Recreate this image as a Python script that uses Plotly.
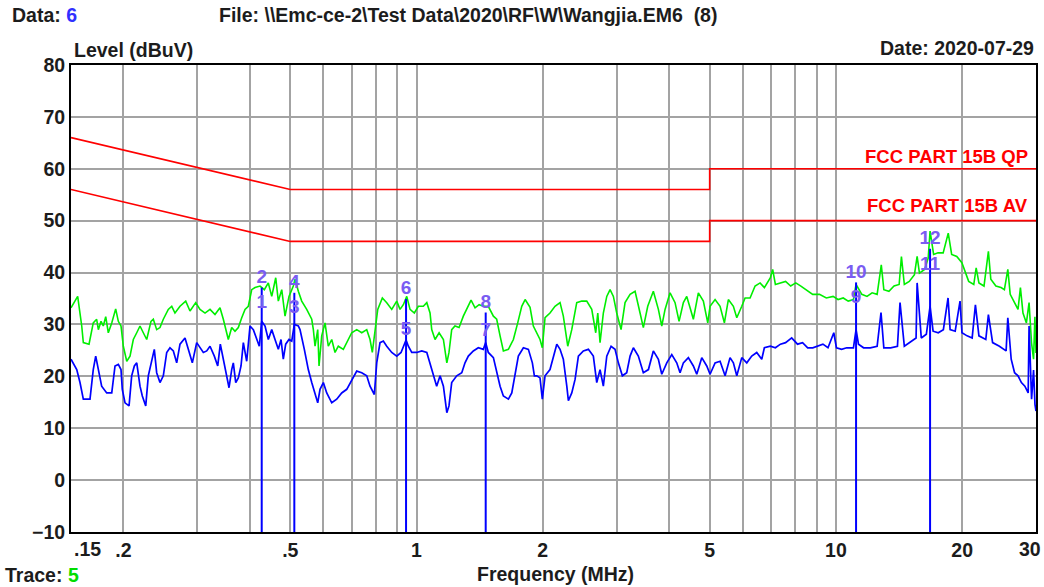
import plotly.graph_objects as go

# ---- measured spectrum: peak detector (green) ----
peak_freq = [
    0.150, 0.1556, 0.1591, 0.1605, 0.1656, 0.1695, 0.1727, 0.1743, 0.1769, 0.1791,
    0.1815, 0.1841, 0.1876, 0.1917, 0.1945, 0.1974, 0.1999, 0.2037, 0.2074, 0.2112,
    0.2152, 0.2191, 0.2231, 0.2273, 0.2327, 0.2357, 0.2401, 0.2445, 0.2490, 0.2559,
    0.2608, 0.2655, 0.2729, 0.2816, 0.2883, 0.2975, 0.3046, 0.3131, 0.3218, 0.3307,
    0.3399, 0.3462, 0.3558, 0.3625, 0.3691, 0.3759, 0.3830, 0.3900, 0.3971, 0.4046,
    0.4120, 0.4235, 0.4336, 0.4432, 0.4516, 0.4616, 0.4682, 0.4771, 0.4858, 0.4965,
    0.5084, 0.5132, 0.5226, 0.5324, 0.5472, 0.5625, 0.5675, 0.5728, 0.5813, 0.5855,
    0.5942, 0.6051, 0.6161, 0.6278, 0.6392, 0.6509, 0.6691, 0.6877, 0.7006, 0.7202,
    0.7402, 0.7608, 0.7747, 0.7845, 0.7963, 0.8082, 0.8289, 0.8491, 0.8728, 0.8970,
    0.9134, 0.9302, 0.9477, 0.9650, 0.9881, 1.010, 1.038, 1.058, 1.077, 1.087,
    1.107, 1.132, 1.159, 1.181, 1.195, 1.213, 1.235, 1.263, 1.293, 1.318,
    1.349, 1.379, 1.410, 1.443, 1.483, 1.525, 1.553, 1.582, 1.611, 1.656,
    1.702, 1.743, 1.782, 1.815, 1.865, 1.899, 1.935, 1.970, 1.995, 2.025,
    2.081, 2.139, 2.199, 2.239, 2.294, 2.345, 2.410, 2.477, 2.546, 2.617,
    2.675, 2.705, 2.739, 2.789, 2.842, 2.894, 2.947, 3.002, 3.074, 3.142,
    3.230, 3.320, 3.412, 3.474, 3.559, 3.670, 3.773, 3.844, 3.914, 4.023,
    4.135, 4.227, 4.328, 4.409, 4.490, 4.572, 4.699, 4.830, 4.948, 5.011,
    5.151, 5.294, 5.421, 5.541, 5.695, 5.803, 5.964, 6.073, 6.242, 6.416,
    6.595, 6.752, 6.979, 7.067, 7.173, 7.376, 7.586, 7.801, 8.023, 8.251,
    8.481, 8.803, 9.138, 9.486, 9.846, 10.12, 10.41, 10.70, 11.01, 11.17,
    11.53, 11.86, 12.20, 12.54, 12.83, 13.01, 13.38, 13.76, 14.15, 14.33,
    14.56, 14.96, 15.39, 15.62, 15.82, 16.27, 16.60, 16.77, 17.10, 17.52,
    18.02, 18.53, 18.88, 19.42, 19.97, 20.35, 20.73, 21.32, 21.60, 21.93,
    22.55, 23.10, 23.41, 24.07, 24.76, 25.22, 25.70, 26.04, 26.67, 27.18,
    27.54, 27.93, 28.46, 28.88, 29.27, 29.60, 29.82, 30.00,
]
peak_level = [
    33.2, 35.4, 29.7, 26.5, 26.2, 30.3, 31.0, 29.0, 30.6, 29.7,
    31.5, 28.4, 30.3, 33.0, 30.6, 29.7, 25.8, 22.9, 23.9, 27.1,
    28.4, 29.7, 28.4, 27.1, 30.6, 31.0, 29.0, 29.4, 31.0, 32.9,
    33.5, 32.2, 33.5, 34.5, 32.6, 34.2, 32.9, 32.2, 32.9, 31.9,
    33.2, 31.0, 27.1, 29.4, 28.7, 29.4, 31.3, 32.9, 33.5, 36.7,
    37.1, 37.4, 36.7, 38.0, 35.4, 39.0, 34.5, 36.7, 31.6, 35.4,
    37.4, 38.7, 36.4, 34.5, 32.9, 31.0, 29.0, 25.8, 29.0, 22.0,
    27.8, 30.3, 25.8, 27.1, 24.6, 25.8, 25.2, 27.1, 28.4, 29.0,
    28.4, 29.0, 27.1, 24.6, 29.0, 32.9, 35.1, 34.2, 32.9, 34.5,
    32.9, 33.8, 35.4, 32.9, 32.2, 33.5, 33.5, 34.2, 32.2, 29.0,
    27.1, 28.4, 27.1, 22.6, 24.6, 29.0, 29.7, 29.4, 31.6, 32.9,
    34.7, 33.2, 33.8, 33.5, 33.5, 31.6, 31.0, 27.8, 24.9, 25.2,
    27.1, 30.3, 33.5, 34.8, 33.3, 29.7, 28.4, 27.1, 25.5, 31.3,
    32.2, 33.5, 34.2, 31.6, 25.8, 29.0, 34.2, 34.5, 34.5, 32.9,
    28.4, 32.2, 26.5, 32.2, 35.4, 36.7, 35.4, 32.2, 29.0, 34.2,
    35.8, 36.4, 32.2, 29.4, 33.5, 36.4, 32.9, 29.7, 32.9, 36.1,
    34.2, 30.6, 34.2, 35.4, 33.2, 31.0, 36.1, 34.5, 30.3, 33.5,
    34.8, 33.5, 30.3, 34.8, 33.5, 31.3, 33.5, 35.1, 35.1, 37.4,
    38.0, 37.1, 39.0, 40.6, 37.7, 38.0, 38.3, 37.4, 38.0, 37.4,
    36.7, 35.8, 35.8, 35.1, 35.4, 34.8, 35.1, 34.5, 34.8, 37.7,
    35.8, 35.4, 36.1, 35.8, 41.5, 36.7, 36.4, 37.4, 37.7, 43.1,
    37.7, 38.3, 39.6, 43.1, 39.9, 40.6, 42.8, 48.0, 43.5, 43.8,
    43.8, 47.6, 43.5, 43.1, 41.9, 39.9, 38.3, 37.7, 40.9, 38.0,
    37.4, 44.1, 38.7, 37.4, 37.1, 36.7, 40.6, 35.8, 34.2, 32.9,
    37.1, 32.2, 30.3, 34.2, 26.5, 23.3, 31.5, 24.5,
]

# ---- measured spectrum: average detector (blue) ----
avg_freq = [
    0.150, 0.1548, 0.1576, 0.1605, 0.1665, 0.1695, 0.1718, 0.1743, 0.1775, 0.1825,
    0.1876, 0.1910, 0.1945, 0.1974, 0.1988, 0.2018, 0.2063, 0.2093, 0.2124, 0.2152,
    0.2191, 0.2219, 0.2261, 0.2293, 0.2336, 0.2370, 0.2401, 0.2445, 0.2490, 0.2537,
    0.2583, 0.2631, 0.2680, 0.2729, 0.2805, 0.2867, 0.2920, 0.2991, 0.3046, 0.3102,
    0.3160, 0.3218, 0.3295, 0.3357, 0.3405, 0.3462, 0.3527, 0.3572, 0.3625, 0.3657,
    0.3706, 0.3759, 0.3815, 0.3864, 0.3936, 0.4008, 0.4082, 0.4159, 0.4218, 0.4274,
    0.4353, 0.4432, 0.4516, 0.4598, 0.4682, 0.4752, 0.4812, 0.4876, 0.4965, 0.5040,
    0.5112, 0.5226, 0.5274, 0.5401, 0.5520, 0.5625, 0.5728, 0.5813, 0.5887, 0.5995,
    0.6108, 0.6278, 0.6452, 0.6632, 0.6817, 0.7006, 0.7202, 0.7402, 0.7608, 0.7747,
    0.7932, 0.8037, 0.8184, 0.8334, 0.8491, 0.8728, 0.8970, 0.9185, 0.9353, 0.9441,
    0.9561, 0.9741, 1.001, 1.029, 1.058, 1.077, 1.097, 1.117, 1.138, 1.159,
    1.181, 1.195, 1.213, 1.247, 1.282, 1.305, 1.329, 1.366, 1.404, 1.443,
    1.462, 1.483, 1.525, 1.553, 1.582, 1.611, 1.656, 1.687, 1.718, 1.749,
    1.798, 1.848, 1.889, 1.910, 1.935, 1.970, 1.995, 2.025, 2.081, 2.120,
    2.160, 2.199, 2.239, 2.282, 2.302, 2.345, 2.388, 2.432, 2.499, 2.569,
    2.640, 2.690, 2.739, 2.789, 2.842, 2.910, 2.974, 3.029, 3.096, 3.171,
    3.230, 3.289, 3.380, 3.474, 3.572, 3.670, 3.773, 3.844, 3.951, 4.061,
    4.173, 4.250, 4.328, 4.448, 4.572, 4.658, 4.788, 4.921, 5.011, 5.151,
    5.294, 5.442, 5.592, 5.695, 5.803, 5.964, 6.130, 6.300, 6.475, 6.655,
    6.752, 6.979, 7.173, 7.376, 7.586, 7.844, 8.099, 8.328, 8.565, 8.808,
    9.059, 9.311, 9.575, 9.885, 10.03, 10.32, 10.61, 11.01, 11.17, 11.32,
    11.64, 12.08, 12.54, 12.81, 13.01, 13.51, 14.02, 14.22, 14.56, 15.11,
    15.53, 15.62, 15.98, 16.43, 16.77, 17.05, 17.54, 18.04, 18.51, 18.72,
    19.25, 19.77, 19.98, 20.55, 21.13, 21.51, 21.93, 22.77, 23.10, 23.64,
    24.54, 25.46, 25.70, 26.18, 26.67, 27.18, 27.69, 28.22, 28.74, 28.88,
    29.28, 29.60, 29.83, 30.00,
]
avg_level = [
    23.3, 21.3, 18.8, 15.6, 15.6, 21.3, 23.9, 21.3, 18.1, 16.8,
    16.8, 22.0, 22.3, 21.3, 17.5, 14.9, 14.3, 20.1, 22.0, 22.6,
    18.1, 16.2, 14.3, 20.1, 23.3, 25.2, 20.7, 18.8, 20.1, 24.6,
    25.5, 24.9, 22.6, 26.2, 27.4, 24.6, 22.6, 26.5, 25.5, 24.6,
    24.9, 25.8, 23.9, 22.0, 26.2, 23.3, 20.7, 17.8, 21.3, 22.6,
    18.8, 19.7, 22.0, 26.5, 22.9, 29.7, 29.0, 27.1, 25.8, 30.6,
    29.7, 27.1, 29.0, 27.1, 25.2, 27.1, 23.3, 26.2, 27.1, 26.8,
    30.0, 29.7, 29.0, 25.2, 21.3, 18.8, 16.8, 14.9, 17.5, 18.8,
    16.8, 14.9, 15.6, 16.8, 17.5, 19.4, 21.0, 20.7, 20.1, 18.1,
    16.5, 22.6, 26.5, 26.8, 25.8, 24.6, 23.9, 24.6, 26.2, 27.0,
    25.8, 24.6, 24.6, 24.9, 24.6, 22.6, 20.1, 18.1, 20.1, 18.1,
    13.0, 14.3, 18.8, 20.1, 20.7, 22.6, 23.9, 24.9, 25.5, 25.2,
    26.5, 24.6, 23.6, 20.7, 18.1, 16.2, 15.6, 16.8, 20.1, 23.9,
    25.5, 25.2, 22.6, 20.1, 20.1, 19.7, 15.6, 20.1, 21.3, 23.9,
    26.2, 25.2, 23.3, 18.1, 15.3, 16.8, 19.4, 23.9, 24.9, 25.2,
    23.9, 18.8, 21.3, 18.1, 23.9, 25.8, 25.2, 22.6, 20.1, 20.7,
    23.9, 25.5, 23.9, 20.7, 21.3, 24.9, 23.3, 20.4, 22.6, 24.2,
    22.6, 20.7, 22.6, 23.6, 22.0, 20.4, 23.6, 22.0, 20.4, 22.6,
    22.9, 20.1, 23.6, 22.6, 20.1, 23.6, 22.6, 23.9, 24.6, 23.3,
    25.5, 25.8, 25.5, 26.2, 26.5, 27.4, 26.2, 26.5, 25.5, 25.5,
    25.8, 26.2, 25.5, 28.4, 25.5, 25.2, 25.5, 25.5, 29.0, 26.2,
    25.5, 25.5, 25.8, 32.3, 25.5, 25.5, 25.8, 34.2, 25.8, 26.8,
    27.4, 38.0, 27.4, 28.1, 33.5, 28.7, 28.4, 29.0, 35.1, 29.0,
    28.7, 34.5, 28.4, 27.8, 27.4, 33.8, 27.8, 27.1, 31.9, 26.5,
    25.8, 24.9, 31.3, 23.3, 20.7, 20.1, 18.8, 18.1, 16.8, 29.7,
    15.6, 21.2, 14.6, 13.3,
]

# ---- FCC Part 15B conducted limits ----
qp_limit_freq = [0.15, 0.5, 5.0, 5.0, 30.0]
qp_limit_level = [66.0, 56.0, 56.0, 60.0, 60.0]
av_limit_freq = [0.15, 0.5, 5.0, 5.0, 30.0]
av_limit_level = [56.0, 46.0, 46.0, 50.0, 50.0]

# ---- markers ----
marker_ids = ["1", "2", "3", "4", "5", "6", "7", "8", "9", "10", "11", "12"]
marker_freq = [0.4274, 0.4274, 0.5112, 0.5112, 0.9441, 0.9441,
               1.462, 1.462, 11.17, 11.17, 16.77, 16.77]
marker_level = [32.3, 37.1, 31.3, 36.1, 27.1, 34.9,
                26.9, 32.3, 33.3, 38.1, 39.5, 44.6]

# ---- axes ----
x_grid = [0.2, 0.3, 0.4, 0.5, 0.6, 0.7, 0.8, 0.9, 1, 2, 3, 4, 5, 6, 7, 8, 9, 10, 20, 30]
x_labels = {0.2: ".2", 0.5: ".5", 1: "1", 2: "2", 5: "5", 10: "10", 20: "20"}
y_ticks = [-10, 0, 10, 20, 30, 40, 50, 60, 70, 80]

W, H = 1044, 587
L, R, T, B = 71, 8, 65, 55
FONT = "Liberation Sans, Arial, sans-serif"
INK = "#1c1c1c"
FS = 19.5


def px(x):
    return (x - L) / (W - L - R)


def py(y):
    return (H - B - y) / (H - T - B)


def bold(color=INK, size=FS):
    return dict(family=FONT, size=size, color=color, weight="bold")


fig = go.Figure()

# limit lines
for fx, lv in ((qp_limit_freq, qp_limit_level), (av_limit_freq, av_limit_level)):
    fig.add_trace(go.Scatter(x=fx, y=lv, mode="lines",
                             line=dict(color="#ff0000", width=1.6),
                             hoverinfo="skip", showlegend=False))

# spectra
fig.add_trace(go.Scatter(x=peak_freq, y=peak_level, mode="lines",
                         line=dict(color="#00ee00", width=1.6),
                         showlegend=False))
fig.add_trace(go.Scatter(x=avg_freq, y=avg_level, mode="lines",
                         line=dict(color="#0000ff", width=1.7),
                         showlegend=False))

# marker stems: one stem per frequency, up to the higher reading
stem_x, stem_y = [], []
for i in range(0, len(marker_freq), 2):
    top = max(marker_level[i], marker_level[i + 1])
    stem_x += [marker_freq[i], marker_freq[i], None]
    stem_y += [-10, top, None]
fig.add_trace(go.Scatter(x=stem_x, y=stem_y, mode="lines",
                         line=dict(color="#0000ff", width=2),
                         hoverinfo="skip", showlegend=False))

fig.add_trace(go.Scatter(x=marker_freq, y=marker_level, mode="text",
                         text=marker_ids, textposition="top center",
                         textfont=dict(family=FONT, size=19, color="#7a5cf2"),
                         showlegend=False))

annotations = [
    dict(x=px(10), y=py(15), text="Data: <span style='color:#3030ff'>6</span>",
         xanchor="left"),
    dict(x=px(217), y=py(15),
         text="File: \\\\Emc-ce-2\\Test Data\\2020\\RF\\W\\Wangjia.EM6\u00a0\u00a0(8)",
         xanchor="left"),
    dict(x=px(1036), y=py(48), text="Date: 2020-07-29", xanchor="right"),
    dict(x=px(72), y=py(50), text="Level (dBuV)", xanchor="left"),
    dict(x=px(555), y=py(574), text="Frequency (MHz)", xanchor="center"),
    dict(x=px(3), y=py(575), text="Trace: <span style='color:#00dd00'>5</span>",
         xanchor="left"),
    # end labels of the frequency axis, nudged inside the page
    dict(x=px(72), y=py(549), text=".15", xanchor="left"),
    dict(x=px(1043), y=py(549), text="30", xanchor="right"),
    dict(x=px(1030), y=py(156), text="FCC PART 15B QP", xanchor="right",
         font=bold("#ff0000", 18.5)),
    dict(x=px(1030), y=py(206), text="FCC PART 15B AV", xanchor="right",
         font=bold("#ff0000", 18.5)),
]
for a in annotations:
    a.update(xref="paper", yref="paper", yanchor="middle", showarrow=False)
    a.setdefault("font", bold())

fig.update_layout(
    width=W, height=H, autosize=False,
    margin=dict(l=L, r=R, t=T, b=B, pad=0, autoexpand=False),
    paper_bgcolor="white", plot_bgcolor="white",
    annotations=annotations,
    showlegend=False,
    font=bold(),
)
fig.update_xaxes(
    type="log", range=[-0.823909, 1.477121], autorange=False, automargin=False,
    tickvals=x_grid, ticktext=[x_labels.get(v, "") for v in x_grid],
    ticklabeloverflow="allow",
    showgrid=True, gridcolor="#a3a3a3", gridwidth=2,
    showline=True, linecolor="black", linewidth=2, mirror=True,
    ticks="", zeroline=False, tickfont=bold(),
)
fig.update_yaxes(
    range=[-10, 80], autorange=False, automargin=False, tickvals=y_ticks,
    ticklabeloverflow="allow",
    showgrid=True, gridcolor="#a3a3a3", gridwidth=2,
    showline=True, linecolor="black", linewidth=2, mirror=True,
    ticks="", zeroline=False, tickfont=bold(),
)

fig.write_html("out.html", config={"displayModeBar": False})
